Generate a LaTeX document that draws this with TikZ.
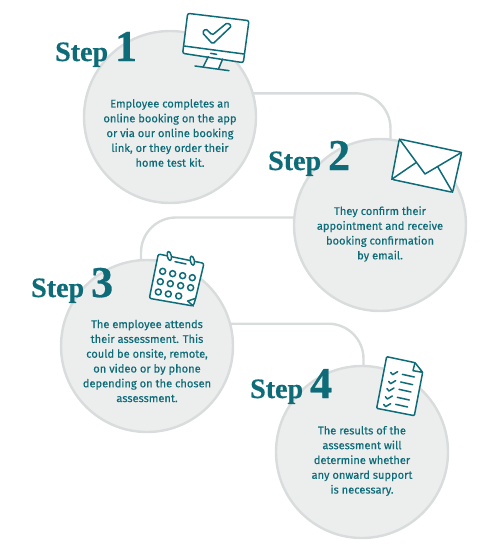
\documentclass[tikz,border=0pt]{standalone}
\usepackage{fontspec}
\setmainfont[RawFeature={embolden=0.35}]{Fira Sans}
\newfontfamily\headfont[RawFeature={embolden=0.6}]{Liberation Serif}
\definecolor{TealStep}{RGB}{14,107,120}
\definecolor{FillCirc}{RGB}{236,238,238}
\definecolor{LineCirc}{RGB}{217,220,220}
\tikzset{
  stepcirc/.style={circle,draw=LineCirc,fill=FillCirc,line width=2.4pt,minimum size=172pt,inner sep=0pt,outer sep=0pt},
  steplink/.style={draw=LineCirc,line width=2.4pt,rounded corners=35pt},
  stephead/.style={anchor=base west,inner sep=0pt,text=TealStep,font=\headfont\bfseries},
  stepbody/.style={align=center,inner sep=0pt,text=TealStep,font=\fontsize{11.1}{14.8}\selectfont},
  icon/.style={draw=TealStep,line width=1.5pt,line join=round,line cap=round},
}
\newcommand{\headtext}[1]{\fontsize{28}{28}\selectfont Step\hspace{7pt}\fontsize{44}{44}\selectfont #1}

\begin{document}
\begin{tikzpicture}[x=1pt,y=-1pt]
  \useasboundingbox (0,0) rectangle (500,549);
  \node[stepcirc] (circA) at (170,117) {};
  \node[stepcirc] (circB) at (380,225) {};
  \node[stepcirc] (circC) at (147,346) {};
  \node[stepcirc] (circD) at (362,452) {};
  \draw[steplink] (circA.16) -| (circB.83);
  \draw[steplink] (circB.175) -| (circC.94);
  \draw[steplink] (circC.15) -| (circD.89);
  \node[stephead] (headA) at (55,61) {\headtext{1}};
  \node[stephead] (headB) at (268,170) {\headtext{2}};
  \node[stephead] (headC) at (31,297) {\headtext{3}};
  \node[stephead] (headD) at (250,398) {\headtext{4}};
  \node[stepbody] (textA) at (170,133) {Employee completes an\\online booking on the app\\or via our online booking\\link, or they order their\\home test kit.};
  \node[stepbody] (textB) at (380,234) {They confirm their\\appointment and receive\\booking confirmation\\by email.};
  \node[stepbody] (textC) at (147,361) {The employee attends\\their assessment. This\\could be onsite, remote,\\on video or by phone\\depending on the chosen\\assessment.};
  \node[stepbody] (textD) at (362,461) {The results of the\\assessment will\\determine whether\\any onward support\\is necessary.};
  % monitor
  \begin{scope}[shift={(40,0)},x=0.3333pt,y=-0.3333pt]
    \fill[white] (505,170) -- (490,200) -- (536,206) -- (548,177) -- cycle;
    \draw[icon,fill=white,rounded corners=2pt] (443,40) -- (627,62) -- (610,188) -- (428,160) -- cycle;
    \draw[icon] (432,138) -- (612,162);
    \draw[icon] (512,160) -- (530,163);
    \draw[icon] (505,170) -- (490,200) (548,177) -- (536,206);
    \draw[icon] (465,198) -- (567,212);
    \draw[icon,rounded corners=1.5pt] (487,98) -- (497,86) -- (517,105) -- (562,68) -- (575,78) -- (518,132) -- cycle;
  \end{scope}
  % envelope
  \begin{scope}[shift={(260,120)},x=0.3333pt,y=-0.3333pt]
    \draw[icon,fill=white,rounded corners=2pt] (418,57) -- (605,97) -- (578,217) -- (395,178) -- cycle;
    \draw[icon] (418,57) -- (495,162) -- (605,97);
    \draw[icon] (395,178) -- (468,128);
    \draw[icon] (578,217) -- (533,140);
  \end{scope}
  % calendar
  \begin{scope}[shift={(20,230)},x=0.3333pt,y=-0.3333pt]
    \draw[icon,fill=white,rounded corners=2pt] (415,72) -- (552,100) -- (527,205) -- (520,228) -- (388,205) -- cycle;
    \draw[icon] (503,213) -- (520,228) (503,213) -- (527,205);
    \draw[icon] (465,95) -- (498,102);
    \foreach \x/\y in {448/78,517/92}
      \draw[icon,fill=white,rotate around={12:(\x,\y)}] (\x,\y) ellipse [x radius=6,y radius=14];
    \foreach \x/\y in {428/124,458/131,488/137,517/143,421/155,451/161,482/167,512/173,415/186,445/192,476/198}
      \draw[icon] (\x,\y) circle [radius=9];
  \end{scope}
  % checklist
  \begin{scope}[shift={(240,340)},x=0.3333pt,y=-0.3333pt]
    \draw[icon,fill=white,rounded corners=1pt] (440,50) -- (525,68) -- (548,97) -- (523,227) -- (410,205) -- cycle;
    \draw[icon] (525,68) -- (519,92) -- (548,97);
    \foreach \x/\y in {452/97,446/124,441/146,436/170,431/193}
      \draw[icon] (\x,\y) -- ++(6,7) -- ++(15,-9);
    \foreach \x/\y in {487/103,482/126,477/148,472/172,467/193}
      \draw[icon] (\x,\y) -- ++(36,8);
  \end{scope}
\end{tikzpicture}
\end{document}
